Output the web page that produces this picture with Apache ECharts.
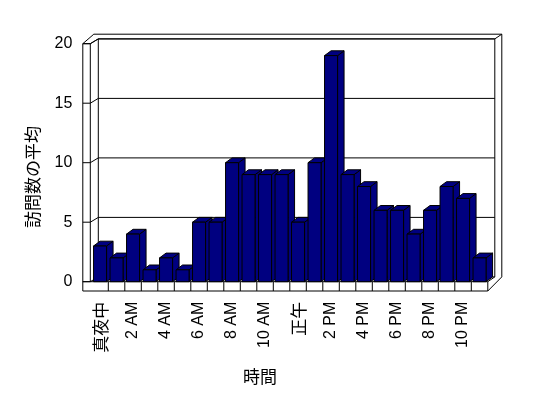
<!DOCTYPE html>
<html>
<head>
<meta charset="utf-8">
<script src="https://cdn.jsdelivr.net/npm/echarts@6/dist/echarts.min.js"></script>
<style>html,body{margin:0;padding:0;background:#fff;}#c{width:548px;height:398px;}</style>
</head>
<body>
<div id="c"></div>
<script>
const categories = ['真夜中','1 AM','2 AM','3 AM','4 AM','5 AM','6 AM','7 AM','8 AM','9 AM','10 AM','11 AM',
  '正午','1 PM','2 PM','3 PM','4 PM','5 PM','6 PM','7 PM','8 PM','9 PM','10 PM','11 PM'];
const visits = [3,2,4,1,2,1,5,5,10,9,9,9,5,10,19,9,8,6,6,4,6,8,7,2];
const yTicks = [0,5,10,15,20];
const yTitle = '訪問数の平均';
const xTitle = '時間';

const NAVY = '#000080';
const LATIN = '"Liberation Sans", Arial, sans-serif';
const CJK = '"Noto Sans CJK JP", sans-serif';
const DX = 6.5, DY = 4.8; // back-wall depth offset

function line(x1, y1, x2, y2) {
  return { type: 'line', shape: { x1: x1, y1: y1, x2: x2, y2: y2 },
    style: { stroke: '#000', lineWidth: 1 } };
}

function renderFrame(params, api) {
  const bw = api.size([1, 0])[0];
  const gx0 = api.coord([0, 0])[0] - bw / 2;
  const gx1 = api.coord([categories.length - 1, 0])[0] + bw / 2;
  const gy0 = api.coord([0, 0])[1];
  const gyTop = api.coord([0, 20])[1];
  const L0 = gx0 - 9, L1 = gx0 - 1.5;
  const B0 = gx0 + DX, B1 = gx1 + 7;
  const O1 = gx1 + 14, OT = gyTop - 9.5;
  const backTop = gyTop - DY, backBot = gy0 - DY;
  const floorBot = gy0 + 9.3;
  const ch = [];
  ch.push(line(B0, backBot, B1, backBot));
  yTicks.forEach(function (v) {
    if (v === 0) return;
    const y = api.coord([0, v])[1];
    ch.push(line(B0, y - DY, B1, y - DY));
    ch.push(line(L0, y, L1, y));
    ch.push(line(L1, y, B0, y - DY));
  });
  ch.push(line(L0, gy0, L1, gy0));
  ch.push(line(L1, gy0, B0, backBot));
  ch.push(line(L0, gyTop, L0, floorBot));
  ch.push(line(L1, gyTop, L1, gy0));
  ch.push(line(L0, gyTop, L0 + 11, OT));
  ch.push(line(L0 + 11, OT, O1, OT));
  ch.push(line(B0, backTop, B0, backBot));
  ch.push(line(B1, backTop, B1, backBot));
  ch.push(line(O1, OT, O1, backBot));
  ch.push(line(B1, backTop, O1, OT));
  ch.push(line(L0, floorBot, gx1, floorBot));
  ch.push(line(gx1, floorBot, O1, backBot));
  ch.push(line(gx1, gy0, B1, backBot));
  for (let k = 1; k <= categories.length; k++) {
    const x = gx0 + k * bw;
    ch.push(line(x, gy0, x, floorBot));
  }
  ch.push(line(L0, gy0, gx1, gy0));
  return { type: 'group', children: ch };
}

function renderBar(params, api) {
  const i = api.value(0), v = api.value(1);
  const bw = api.size([1, 0])[0];
  const w = bw * 0.79;
  const c = api.coord([i, v]);
  const b = api.coord([i, 0]);
  const l = c[0] - w / 2, r = l + w;
  const yt = c[1], yb = b[1];
  const st = { fill: NAVY, stroke: '#000', lineWidth: 1 };
  return { type: 'group', children: [
    { type: 'polygon', shape: { points: [[r, yt], [r + DX, yt - DY], [r + DX, yb - DY], [r, yb]] }, style: st },
    { type: 'polygon', shape: { points: [[l, yt], [l + DX, yt - DY], [r + DX, yt - DY], [r, yt]] }, style: st },
    { type: 'rect', shape: { x: l, y: yt, width: w, height: yb - yt }, style: st }
  ] };
}

function renderTopLines(params, api) {
  const bw = api.size([1, 0])[0];
  const gx0 = api.coord([0, 0])[0] - bw / 2;
  const gyTop = api.coord([0, 20])[1];
  const L0 = gx0 - 9, L1 = gx0 - 1.5, B0 = gx0 + DX;
  return { type: 'group', children: [
    line(L0, gyTop, L1, gyTop),
    line(L1, gyTop, B0, gyTop - DY),
    line(B0, gyTop - DY, gx0 + categories.length * bw + 7, gyTop - DY)
  ] };
}

const chart = echarts.init(document.getElementById('c'), null, { renderer: 'canvas' });
chart.setOption({
  backgroundColor: '#ffffff',
  animation: false,
  grid: { left: 91.8, right: 60.2, top: 43.7, bottom: 116.3 },
  xAxis: {
    type: 'category',
    data: categories,
    axisLine: { show: false },
    axisTick: { show: false },
    splitLine: { show: false },
    axisLabel: {
      interval: 1,
      rotate: 90,
      margin: 20,
      color: '#000',
      fontSize: 16,
      fontFamily: LATIN,
      formatter: function (s) {
        return /[^\x00-\x7f]/.test(s) ? '{c|' + s + '}' : s;
      },
      rich: { c: { fontSize: 17, fontFamily: CJK, color: '#000' } }
    }
  },
  yAxis: {
    type: 'value',
    min: 0, max: 20, interval: 5,
    axisLine: { show: false },
    axisTick: { show: false },
    splitLine: { show: false },
    axisLabel: { margin: 19.5, color: '#000', fontSize: 16, fontFamily: LATIN }
  },
  series: [
    { type: 'custom', data: [[0, 0]], renderItem: renderFrame, z: 1, silent: true },
    { type: 'custom', name: yTitle, data: visits.map(function (v, i) { return [i, v]; }),
      encode: { x: 0, y: 1 }, renderItem: renderBar, z: 2 },
    { type: 'custom', data: [[0, 0]], renderItem: renderTopLines, z: 3, silent: true }
  ],
  graphic: [
    { type: 'text', x: 33, y: 177, rotation: Math.PI / 2,
      style: { text: yTitle, font: '17px ' + CJK, fill: '#000', align: 'center', verticalAlign: 'middle' } },
    { type: 'text', x: 260, y: 377,
      style: { text: xTitle, font: '17px ' + CJK, fill: '#000', align: 'center', verticalAlign: 'middle' } }
  ]
});
</script>
</body>
</html>
